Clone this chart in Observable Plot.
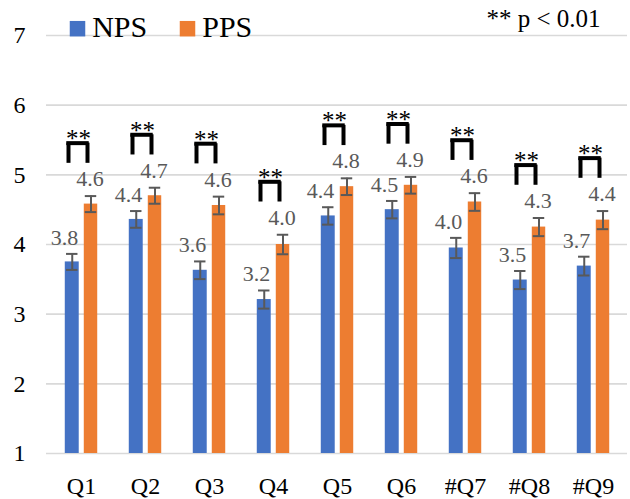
<!DOCTYPE html>
<html>
<head>
<meta charset="utf-8">
<script src="https://cdn.jsdelivr.net/npm/d3@7"></script>
<script src="https://cdn.jsdelivr.net/npm/@observablehq/plot@0.6"></script>
<style>
  html, body { margin: 0; padding: 0; background: #fff; }
  #chart { width: 630px; height: 499px; }
  #chart svg, #chart svg text, #chart svg g { font-family: "Liberation Serif", "Times New Roman", serif !important; }
</style>
</head>
<body>
<div id="chart"></div>
<script>
const categories = ["Q1", "Q2", "Q3", "Q4", "Q5", "Q6", "#Q7", "#Q8", "#Q9"];
const seriesNames = ["NPS", "PPS"];
const npsMean = [3.75, 4.36, 3.63, 3.21, 4.41, 4.50, 3.95, 3.49, 3.69];
const ppsMean = [4.58, 4.70, 4.56, 4.00, 4.83, 4.85, 4.61, 4.25, 4.35];
const npsErr = [0.115, 0.12, 0.127, 0.13, 0.125, 0.125, 0.145, 0.13, 0.135];
const ppsErr = [0.115, 0.115, 0.127, 0.14, 0.12, 0.12, 0.127, 0.13, 0.13];
const npsLabels = ["3.8", "4.4", "3.6", "3.2", "4.4", "4.5", "4.0", "3.5", "3.7"];
const ppsLabels = ["4.6", "4.7", "4.6", "4.0", "4.8", "4.9", "4.6", "4.3", "4.4"];
const significance = ["**", "**", "**", "**", "**", "**", "**", "**", "**"];
const yTicks = [1, 2, 3, 4, 5, 6, 7];
const noteText = "** p < 0.01";

const BLUE = "#4472c4", ORANGE = "#ed7d31", GRAY = "#595959", GRID = "#d9d9d9";
const FONT = "Liberation Serif";

const rows = categories.map((q, i) => ({
  q,
  nps: npsMean[i], pps: ppsMean[i],
  npsErr: npsErr[i], ppsErr: ppsErr[i],
  npsLabel: npsLabels[i], ppsLabel: ppsLabels[i],
  sig: significance[i],
  sigTop: ppsMean[i] + ppsErr[i] + 0.76
}));

const W = 630, H = 499, ML = 46, MR = 3, MT = 35, MB = 46;
const half = (W - ML - MR) / categories.length / 2;

const chart = Plot.plot({
  width: W, height: H,
  marginLeft: ML, marginRight: MR, marginTop: MT, marginBottom: MB,
  style: {fontFamily: FONT, fontSize: "22px", color: "#000", background: "#fff"},
  x: {domain: categories, padding: 0, label: null},
  y: {domain: [1, 7], label: null},
  marks: [
    Plot.gridY(yTicks, {stroke: GRID, strokeOpacity: 1, strokeWidth: 1.6}),
    Plot.axisY({ticks: yTicks, tickFormat: d => String(d), tickSize: 0, tickPadding: 21, fontSize: 24, fontFamily: FONT, fill: "#000", label: null}),
    Plot.axisX({tickSize: 0, tickPadding: 23, fontSize: 24, fontFamily: FONT, fill: "#000", label: null}),
    // bars
    Plot.barY(rows, {x: "q", y1: 1, y2: "nps", fill: BLUE, insetLeft: half - 16.5, insetRight: half + 2}),
    Plot.barY(rows, {x: "q", y1: 1, y2: "pps", fill: ORANGE, insetLeft: half + 2.5, insetRight: half - 16.5}),
    // error bars
    Plot.ruleX(rows, {x: "q", y1: d => d.nps - d.npsErr, y2: d => d.nps + d.npsErr, dx: -9.25, stroke: GRAY, strokeWidth: 2}),
    Plot.tickY(rows, {x: "q", y: d => d.nps - d.npsErr, insetLeft: half - 15.25, insetRight: half + 3.25, stroke: GRAY, strokeWidth: 2}),
    Plot.tickY(rows, {x: "q", y: d => d.nps + d.npsErr, insetLeft: half - 15.25, insetRight: half + 3.25, stroke: GRAY, strokeWidth: 2}),
    Plot.ruleX(rows, {x: "q", y1: d => d.pps - d.ppsErr, y2: d => d.pps + d.ppsErr, dx: 9.5, stroke: GRAY, strokeWidth: 2}),
    Plot.tickY(rows, {x: "q", y: d => d.pps - d.ppsErr, insetLeft: half + 3.5, insetRight: half - 15.5, stroke: GRAY, strokeWidth: 2}),
    Plot.tickY(rows, {x: "q", y: d => d.pps + d.ppsErr, insetLeft: half + 3.5, insetRight: half - 15.5, stroke: GRAY, strokeWidth: 2}),
    // value labels
    Plot.text(rows, {x: "q", y: d => d.nps + d.npsErr, text: "npsLabel", dx: -17, dy: -9, lineAnchor: "bottom", fill: GRAY, fontSize: 22, fontFamily: FONT}),
    Plot.text(rows, {x: "q", y: d => d.pps + d.ppsErr, text: "ppsLabel", dx: 8.5, dy: -10, lineAnchor: "bottom", fill: GRAY, fontSize: 22, fontFamily: FONT}),
    // significance brackets
    Plot.tickY(rows, {x: "q", y: "sigTop", insetLeft: half - 15, insetRight: half - 8, stroke: "#000", strokeWidth: 4}),
    Plot.ruleX(rows, {x: "q", y1: "sigTop", y2: d => d.sigTop - 0.29, dx: -13, stroke: "#000", strokeWidth: 4}),
    Plot.ruleX(rows, {x: "q", y1: "sigTop", y2: d => d.sigTop - 0.29, dx: 6, stroke: "#000", strokeWidth: 4}),
    Plot.text(rows, {x: "q", y: "sigTop", text: "sig", dx: -3, dy: 4, lineAnchor: "bottom", fill: "#000", fontSize: 25, fontFamily: FONT}),
    // legend
    Plot.dot([seriesNames[0]], {frameAnchor: "top-left", dx: 31, dy: -6.8, symbol: "square", r: 8.75, fill: BLUE, stroke: null}),
    Plot.text([seriesNames[0]], {frameAnchor: "top-left", text: d => d, dx: 45.7, dy: 1.7, textAnchor: "start", lineAnchor: "bottom", fontSize: 30, fill: "#000", fontFamily: FONT}),
    Plot.dot([seriesNames[1]], {frameAnchor: "top-left", dx: 141, dy: -6.8, symbol: "square", r: 8.75, fill: ORANGE, stroke: null}),
    Plot.text([seriesNames[1]], {frameAnchor: "top-left", text: d => d, dx: 155.7, dy: 1.7, textAnchor: "start", lineAnchor: "bottom", fontSize: 30, fill: "#000", fontFamily: FONT}),
    // note
    Plot.text([noteText], {frameAnchor: "top-right", text: d => d, dx: -27, dy: -8.3, textAnchor: "end", lineAnchor: "bottom", fontSize: 25, fill: "#000", fontFamily: FONT})
  ]
});
document.getElementById("chart").appendChild(chart);
</script>
</body>
</html>
